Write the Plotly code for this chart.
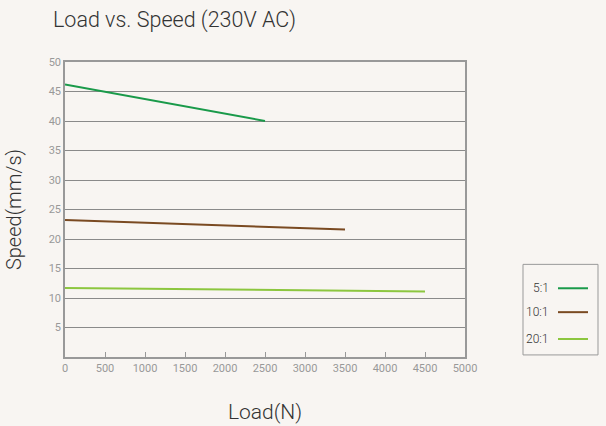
import plotly.graph_objects as go

series_names = ["5:1", "10:1", "20:1"]
series_colors = ["#1a9a4a", "#7a4a22", "#8cc63f"]
load_5 = [0, 2500]
speed_5 = [46.2, 40.0]
load_10 = [0, 3500]
speed_10 = [23.2, 21.6]
load_20 = [0, 4500]
speed_20 = [11.7, 11.1]

x_ticks = list(range(0, 5001, 500))
y_ticks = list(range(5, 51, 5))

fig = go.Figure()
for name, xs, ys, c in zip(series_names, [load_5, load_10, load_20],
                           [speed_5, speed_10, speed_20], series_colors):
    fig.add_trace(go.Scatter(x=xs, y=ys, mode="lines", name=name,
                             line=dict(color=c, width=2), showlegend=False))

bg = "#f8f5f2"
fig.update_layout(
    width=606, height=426,
    paper_bgcolor=bg, plot_bgcolor=bg,
    margin=dict(l=65, r=141, t=62, b=69),
    font=dict(family="Roboto", color="#999999"),
    title=dict(text="Load vs. Speed (230V AC)", x=53/606, xanchor="left",
               y=1-19/426, yanchor="middle",
               font=dict(size=21.5, color="#333333", family="Roboto", weight=300)),
)
fig.update_xaxes(range=[0, 5000], tickvals=x_ticks, ticks="inside", ticklen=5,
                 tickcolor="#999999", showgrid=False, showline=True, automargin=False,
                 linecolor="#999999", linewidth=1.5, mirror=True, zeroline=False,
                 tickfont=dict(size=11, color="#999999"),
                 title=dict(text="Load(N)", font=dict(size=21, color="#333333", weight=300),
                            standoff=30))
fig.update_yaxes(range=[0, 50], tickvals=y_ticks, showgrid=True, gridcolor="#8a8a8a",
                 gridwidth=1, showline=True, linecolor="#999999", linewidth=1.5,
                 mirror=True, zeroline=False, ticks="", automargin=False,
                 tickfont=dict(size=11, color="#999999"),
                 title=dict(text="Speed(mm/s)", font=dict(size=20, color="#333333", weight=300),
                            standoff=22))

# manual legend (text left of line samples)
fig.add_shape(type="rect", xref="paper", yref="paper", x0=1.145, x1=1.3325,
              y0=0.007, y1=0.314, line=dict(color="#999999", width=1), fillcolor=bg)
leg_y = [0.233, 0.152, 0.061]
for name, c, yy in zip(series_names, series_colors, leg_y):
    fig.add_shape(type="line", xref="paper", yref="paper", x0=1.2325, x1=1.3075,
                  y0=yy, y1=yy, line=dict(color=c, width=2))
    fig.add_annotation(text=name, xref="paper", yref="paper", x=1.215, y=yy,
                       xanchor="right", yanchor="middle", showarrow=False,
                       font=dict(size=12, color="#333333", weight=300))

fig.write_html("out.html", config={"displayModeBar": False},
               post_script="document.body.style.margin='0';")
